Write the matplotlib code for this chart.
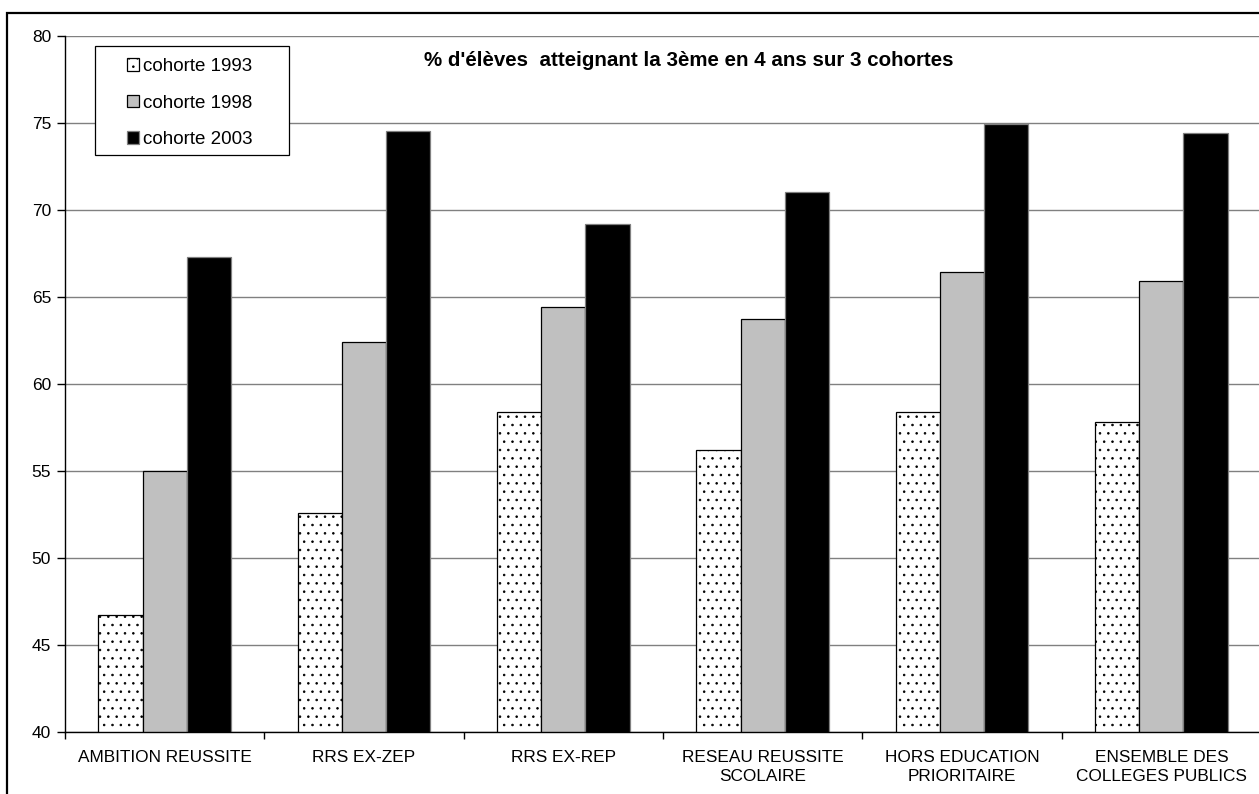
import matplotlib
matplotlib.use("Agg")
import matplotlib.pyplot as plt
import matplotlib.patches as mpatches
import numpy as np

plt.rcParams['font.family'] = ['Liberation Sans', 'DejaVu Sans']
plt.rcParams['hatch.linewidth'] = 0.6

# data
categories = ["AMBITION REUSSITE", "RRS EX-ZEP", "RRS EX-REP",
              "RESEAU REUSSITE\nSCOLAIRE", "HORS EDUCATION\nPRIORITAIRE",
              "ENSEMBLE DES\nCOLLEGES PUBLICS"]
series_names = ["cohorte 1993", "cohorte 1998", "cohorte 2003"]
cohorte_1993 = [46.7, 52.6, 58.4, 56.2, 58.4, 57.8]
cohorte_1998 = [55.0, 62.4, 64.4, 63.7, 66.4, 65.9]
cohorte_2003 = [67.3, 74.5, 69.2, 71.0, 74.9, 74.4]
y_ticks = [40, 45, 50, 55, 60, 65, 70, 75, 80]
title = "% d'élèves  atteignant la 3ème en 4 ans sur 3 cohortes"

W, H = 1259, 794
fig = plt.figure(figsize=(W / 100, H / 100), dpi=100)
fig.patch.set_facecolor('white')


def fx(px):
    return px / W


def fy(py):
    return 1 - py / H


ax = fig.add_axes([fx(65), fy(732), fx(1261) - fx(65), fy(35.5) - fy(732)])

x = np.arange(len(categories))
bw = 0.222
ax.bar(x - bw, cohorte_1993, bw, color='white', edgecolor='black',
       hatch='..', linewidth=0.9, label=series_names[0], zorder=2)
ax.bar(x, cohorte_1998, bw, color='#c0c0c0', edgecolor='black',
       linewidth=0.9, label=series_names[1], zorder=2)
ax.bar(x + bw, cohorte_2003, bw, color='black', edgecolor='#808080',
       linewidth=0.9, label=series_names[2], zorder=2)

ax.set_xlim(-0.5, len(categories) - 0.5)
ax.set_ylim(y_ticks[0], y_ticks[-1])
ax.set_yticks(y_ticks)
ax.yaxis.grid(True, color='#808080', linewidth=1.0)
ax.set_axisbelow(True)

ax.set_xticks(x)
ax.set_xticklabels(categories, fontsize=12.4, linespacing=1.3)
ax.set_xticks(np.arange(len(categories) + 1) - 0.5, minor=True)
ax.tick_params(axis='x', which='major', length=0, pad=13)
ax.tick_params(axis='x', which='minor', length=5, width=1, color='black',
               direction='out')
ax.tick_params(axis='y', length=6, width=1, color='black', pad=4,
               labelsize=12.5)

for side in ['top', 'right']:
    ax.spines[side].set_visible(False)
for side in ['left', 'bottom']:
    ax.spines[side].set_color('black')
    ax.spines[side].set_linewidth(1.0)

# legend box (Excel style, wider than the content)
frame = mpatches.Rectangle((fx(95), fy(155)), fx(289) - fx(95), fy(45.7) - fy(155),
                           transform=fig.transFigure, facecolor='white',
                           edgecolor='black', linewidth=0.9, zorder=4.5,
                           clip_on=False)
ax.add_patch(frame)
leg = ax.legend(loc='upper left', bbox_to_anchor=(fx(126.5), fy(58)),
                bbox_transform=fig.transFigure, frameon=False, fontsize=13.5,
                borderpad=0, handlelength=0.66, handleheight=0.66,
                handletextpad=0.21, labelspacing=1.04, borderaxespad=0)
leg.set_zorder(5)

fig.text(fx(689), fy(61), title, ha='center', va='center', fontsize=14.8,
         fontweight='bold')

# outer chart border (only top and left visible in the crop)
border = mpatches.Rectangle((fx(7), fy(1300)), fx(1400), fy(13) - fy(1300),
                            transform=fig.transFigure, fill=False,
                            edgecolor='black', linewidth=1.6)
fig.add_artist(border)

fig.savefig('out.png', dpi=100)
